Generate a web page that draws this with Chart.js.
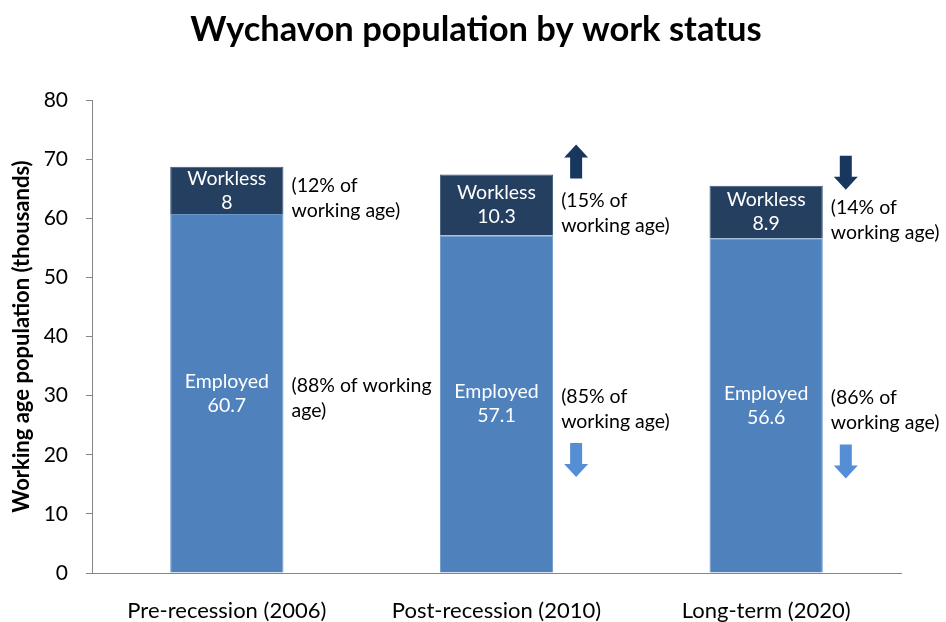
<!DOCTYPE html>
<html>
<head>
<meta charset="utf-8">
<script src="https://cdn.jsdelivr.net/npm/chart.js@4"></script>
<style>
  body { margin: 0; background: #fff; }
</style>
</head>
<body>
<canvas id="chart" width="946" height="622"></canvas>
<script>
const categories = ['Pre-recession (2006)', 'Post-recession (2010)', 'Long-term (2020)'];
const employed = [60.7, 57.1, 56.6];
const workless = [8, 10.3, 8.9];
const yTicks = [0, 10, 20, 30, 40, 50, 60, 70, 80];

// side notes, split into lines as in the picture
const worklessNotes = [['(12% of', 'working age)'], ['(15% of', 'working age)'], ['(14% of', 'working age)']];
const employedNotes = [['(88% of working', 'age)'], ['(85% of', 'working age)'], ['(86% of', 'working age)']];
const worklessTrend = [null, 'up', 'down'];
const employedTrend = [null, 'down', 'down'];

const TITLE = 'Wychavon population by work status';
const FONT = 'Lato, "Open Sans", sans-serif';

function drawArrow(c, x, y, dir, color) {
    // y is centre of the arrow, total height 34
    const h = 34, shaft = 12, head = 24, headH = 13;
    c.save();
    c.fillStyle = color;
    c.beginPath();
    if (dir === 'up') {
        const top = y - h / 2;
        c.moveTo(x, top);
        c.lineTo(x + head / 2, top + headH);
        c.lineTo(x + shaft / 2, top + headH);
        c.lineTo(x + shaft / 2, top + h);
        c.lineTo(x - shaft / 2, top + h);
        c.lineTo(x - shaft / 2, top + headH);
        c.lineTo(x - head / 2, top + headH);
    } else {
        const bot = y + h / 2;
        c.moveTo(x, bot);
        c.lineTo(x + head / 2, bot - headH);
        c.lineTo(x + shaft / 2, bot - headH);
        c.lineTo(x + shaft / 2, bot - h);
        c.lineTo(x - shaft / 2, bot - h);
        c.lineTo(x - shaft / 2, bot - headH);
        c.lineTo(x - head / 2, bot - headH);
    }
    c.closePath();
    c.fill();
    c.restore();
}

// title centred on the whole canvas, not only the padded layout
const titlePlugin = {
    id: 'pageTitle',
    afterDraw(chart) {
        const c = chart.ctx;
        c.save();
        c.fillStyle = '#000';
        c.font = 'bold 34.5px ' + FONT;
        c.textAlign = 'center';
        c.textBaseline = 'middle';
        c.fillText(TITLE, chart.width / 2 + 3, 30);
        c.restore();
    }
};

const labelPlugin = {
    id: 'barLabels',
    afterDatasetsDraw(chart) {
        const c = chart.ctx;
        const empMeta = chart.getDatasetMeta(0);
        const wlMeta = chart.getDatasetMeta(1);
        c.save();
        c.textBaseline = 'middle';
        empMeta.data.forEach((bar, i) => {
            const wl = wlMeta.data[i];
            const eMid = (bar.y + bar.base) / 2;
            const wMid = (wl.y + wl.base) / 2;
            // inside labels
            c.fillStyle = '#ffffff';
            c.font = '19.5px ' + FONT;
            c.textAlign = 'center';
            c.fillText('Employed', bar.x, eMid - 12);
            c.fillText(String(employed[i]), bar.x, eMid + 12);
            c.fillText('Workless', wl.x, wMid - 12);
            c.fillText(String(workless[i]), wl.x, wMid + 12);

            // side notes
            const tx = bar.x + bar.width / 2 + 8;
            c.fillStyle = '#000000';
            c.textAlign = 'left';
            c.font = '19.5px ' + FONT;
            const wNoteY = wMid + 8;
            c.fillText(worklessNotes[i][0], tx, wNoteY - 12.5);
            c.fillText(worklessNotes[i][1], tx, wNoteY + 12.5);
            const eNoteY = eMid + 5;
            c.fillText(employedNotes[i][0], tx, eNoteY - 12.5);
            c.fillText(employedNotes[i][1], tx, eNoteY + 12.5);

            if (worklessTrend[i]) {
                drawArrow(c, tx + 15, wl.y - 13, worklessTrend[i], '#17375E');
            }
            if (employedTrend[i]) {
                drawArrow(c, tx + 15, eNoteY + 51, employedTrend[i], '#558ED5');
            }
        });
        c.restore();
    }
};

new Chart(document.getElementById('chart'), {
    type: 'bar',
    data: {
        labels: categories,
        datasets: [
            {
                label: 'Employed',
                data: employed,
                backgroundColor: '#4F81BD',
                borderColor: '#6A95C8',
                borderWidth: 1,
                barPercentage: 0.42,
                categoryPercentage: 1
            },
            {
                label: 'Workless',
                data: workless,
                backgroundColor: '#243F60',
                borderColor: '#3A5677',
                borderWidth: 1,
                barPercentage: 0.42,
                categoryPercentage: 1
            }
        ]
    },
    options: {
        responsive: false,
        animation: false,
        layout: { padding: { left: 0, right: 45, top: 100, bottom: 0 } },
        scales: {
            x: {
                stacked: true,
                grid: { drawOnChartArea: false, drawTicks: false },
                border: { color: '#868686', width: 1 },
                ticks: {
                    color: '#000',
                    padding: 25,
                    maxRotation: 0,
                    font: { family: FONT, size: 22 }
                },
                afterFit(scale) { scale.height = 49; }
            },
            y: {
                stacked: true,
                min: 0,
                max: 80,
                afterBuildTicks(scale) { scale.ticks = yTicks.map(v => ({ value: v })); },
                grid: { drawOnChartArea: false, color: '#868686', tickLength: 6 },
                border: { color: '#868686', width: 1 },
                ticks: {
                    color: '#000',
                    padding: 18,
                    font: { family: FONT, size: 21 }
                },
                title: {
                    display: true,
                    text: 'Working age population (thousands)',
                    color: '#000',
                    padding: { top: 9, bottom: 0 },
                    font: { family: FONT, size: 22, weight: 'bold' }
                },
                afterFit(scale) { scale.width = 92; }
            }
        },
        plugins: {
            legend: { display: false },
            tooltip: { enabled: false },
            title: { display: false }
        }
    },
    plugins: [labelPlugin, titlePlugin]
});
</script>
</body>
</html>
